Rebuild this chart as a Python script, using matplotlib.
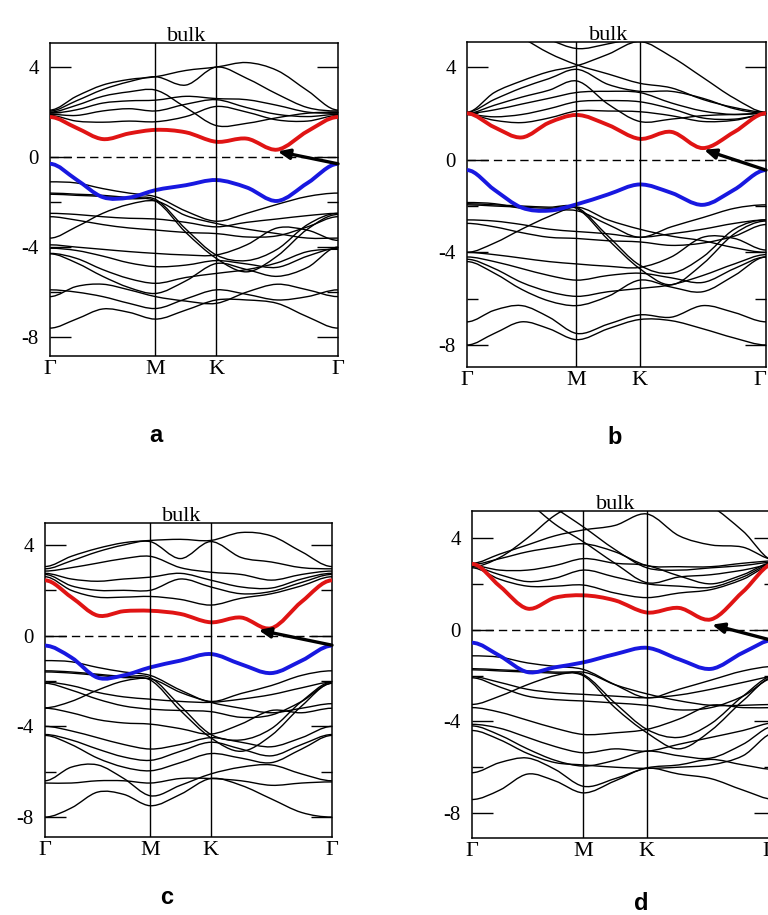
"""
Band structures of four bulk cases (a-d) along G-M-K-G.
"""
import numpy as np
import matplotlib
matplotlib.use('Agg')
import matplotlib.pyplot as plt
from matplotlib.path import Path
from matplotlib.patches import PathPatch

plt.rcParams.update({
    'font.family': 'Liberation Serif',
    'axes.linewidth': 1.1,
    'axes.unicode_minus': False,
    'figure.dpi': 100,
    'savefig.dpi': 100,
})

# k-path (hexagonal: |GM| : |MK| : |KG| = 0.866 : 0.5 : 1)
KPTS = [0.0, 0.2165, 0.433, 0.6495, 0.866, 1.116, 1.366, 1.616, 1.866, 2.116, 2.366]
KNODES = [0.0, 0.866, 1.366, 2.366]
KLABELS = ['Γ', 'M', 'K', 'Γ']

# ---- panel a ----
A_RED = [1.78, 1.3, 0.8, 1.05, 1.21, 1.1, 0.68, 0.82, 0.33, 1.15, 1.78]
A_BLUE = [-0.3, -1.0, -1.78, -1.8, -1.47, -1.25, -1.02, -1.35, -1.95, -1.15, -0.3]
A_COND = [
    [2.09, 2.7, 3.2, 3.45, 3.57, 3.85, 4.0, 4.2, 3.85, 2.95, 2.09],
    [2.05, 2.5, 3.0, 3.35, 3.57, 3.2, 4.0, 3.5, 2.8, 2.2, 2.05],
    [2.0, 2.3, 2.7, 2.9, 2.98, 2.2, 1.4, 1.5, 1.75, 1.95, 2.0],
    [1.95, 2.1, 2.4, 2.5, 2.53, 2.7, 2.6, 2.55, 2.3, 2.0, 1.95],
    [1.9, 1.85, 2.05, 2.15, 2.05, 2.35, 2.55, 2.2, 1.9, 1.8, 1.9],
    [1.85, 1.6, 1.55, 1.6, 1.57, 1.8, 2.25, 2.0, 1.65, 1.6, 1.85],
]
A_VAL = [
    [-1.1, -1.15, -1.4, -1.6, -1.76, -2.4, -2.85, -2.5, -2.1, -1.75, -1.6],
    [-1.6, -1.65, -1.7, -1.8, -1.88, -3.2, -4.35, -4.6, -4.1, -3.0, -2.5],
    [-1.65, -1.7, -1.75, -1.85, -1.95, -3.35, -4.5, -5.1, -4.4, -3.2, -2.55],
    [-2.5, -2.55, -2.65, -2.72, -2.75, -2.9, -3.1, -2.9, -2.75, -2.6, -2.5],
    [-2.65, -2.8, -3.0, -3.15, -3.24, -3.35, -3.4, -3.55, -3.5, -3.1, -2.65],
    [-3.6, -3.1, -2.5, -2.1, -1.95, -2.6, -2.95, -3.2, -3.4, -3.6, -3.6],
    [-3.9, -4.0, -4.1, -4.2, -4.28, -4.35, -4.35, -3.9, -3.15, -3.25, -3.7],
    [-4.05, -4.15, -4.4, -4.7, -4.87, -4.8, -4.6, -4.75, -4.9, -4.4, -4.05],
    [-4.28, -4.5, -5.0, -5.4, -5.61, -5.35, -5.17, -5.0, -4.7, -4.2, -4.1],
    [-4.3, -4.7, -5.3, -5.8, -6.06, -5.5, -4.73, -5.0, -5.3, -4.9, -4.0],
    [-6.2, -5.75, -5.65, -5.9, -6.2, -6.4, -6.5, -6.0, -5.65, -5.9, -6.2],
    [-5.9, -6.0, -6.2, -6.5, -6.73, -6.3, -5.9, -6.1, -6.35, -6.2, -5.9],
    [-7.6, -7.2, -6.75, -6.9, -7.2, -6.8, -6.35, -6.35, -6.5, -7.1, -7.6],
]
A_ARROW = [(2.366, -0.3), (1.87, 0.25)]

# ---- panel b ----
B_RED = [2.0, 1.4, 0.96, 1.6, 1.93, 1.5, 0.9, 1.2, 0.5, 1.2, 2.0]
B_BLUE = [-0.45, -1.3, -2.07, -2.2, -1.93, -1.5, -1.07, -1.43, -1.95, -1.29, -0.45]
B_COND = [
    [2.05, 2.9, 3.4, 3.8, 4.05, 4.55, 5.1, 4.45, 3.55, 2.65, 2.05],
    [2.05, 2.6, 3.1, 3.5, 3.9, 3.25, 2.95, 2.95, 2.65, 2.2, 2.0],
    [2.0, 2.35, 2.7, 3.0, 3.4, 2.4, 1.65, 1.75, 1.9, 1.95, 2.0],
    [2.0, 2.15, 2.4, 2.65, 2.9, 2.95, 2.9, 2.45, 2.1, 1.95, 2.0],
    [1.95, 1.85, 1.95, 2.2, 2.5, 2.55, 2.5, 2.2, 1.8, 1.75, 1.95],
    [1.95, 1.7, 1.6, 1.8, 2.1, 2.1, 2.07, 1.9, 1.65, 1.7, 1.95],
    [7.0, 6.2, 5.3, 4.6, 4.1, 3.7, 3.3, 3.1, 2.6, 2.25, 2.05],
    [7.5, 6.6, 5.8, 5.2, 4.8, 5.0, 5.3, 5.6, 6.0, 6.4, 6.6],
]
B_VAL = [
    [-1.85, -1.9, -2.1, -2.2, -2.2, -2.8, -3.35, -2.9, -2.5, -2.1, -1.95],
    [-1.9, -1.95, -2.0, -2.05, -2.05, -3.3, -4.55, -4.9, -4.2, -3.0, -2.6],
    [-1.95, -2.0, -2.05, -2.1, -2.1, -3.45, -4.7, -5.4, -4.5, -3.2, -2.65],
    [-2.6, -2.65, -2.8, -3.0, -3.1, -3.2, -3.35, -3.2, -3.0, -2.75, -2.6],
    [-2.75, -2.9, -3.15, -3.35, -3.4, -3.5, -3.55, -3.7, -3.6, -3.3, -2.8],
    [-4.0, -3.6, -3.0, -2.45, -2.05, -2.6, -3.0, -3.3, -3.5, -3.8, -4.0],
    [-4.0, -4.1, -4.25, -4.4, -4.5, -4.6, -4.65, -4.2, -3.35, -3.4, -3.9],
    [-4.2, -4.4, -4.7, -5.0, -5.2, -5.0, -4.9, -5.1, -5.3, -4.7, -4.2],
    [-4.3, -4.7, -5.3, -5.7, -5.9, -5.7, -5.56, -5.4, -5.0, -4.5, -4.1],
    [-4.4, -4.9, -5.6, -6.1, -6.3, -5.9, -5.2, -5.5, -5.7, -5.0, -4.2],
    [-7.0, -6.5, -6.3, -6.8, -7.5, -7.1, -6.7, -6.8, -6.3, -6.6, -7.0],
    [-8.0, -7.5, -7.0, -7.3, -7.77, -7.3, -6.9, -6.95, -7.3, -7.7, -8.0],
]
B_ARROW = [(2.366, -0.45), (1.875, 0.43)]

# ---- panel c ----
C_RED = [2.44, 1.7, 0.89, 1.08, 1.1, 0.96, 0.59, 0.8, 0.33, 1.5, 2.44]
C_BLUE = [-0.44, -0.96, -1.85, -1.75, -1.4, -1.1, -0.81, -1.26, -1.65, -1.1, -0.44]
C_COND = [
    [3.05, 3.5, 3.85, 4.1, 4.2, 4.25, 4.2, 4.55, 4.4, 3.7, 3.05],
    [2.95, 3.3, 3.7, 4.0, 4.15, 3.4, 4.15, 3.45, 3.25, 3.0, 2.95],
    [2.85, 3.0, 3.2, 3.4, 3.5, 3.0, 2.8, 2.7, 2.45, 2.7, 2.85],
    [2.75, 2.5, 2.4, 2.5, 2.58, 2.75, 2.45, 2.15, 2.1, 2.5, 2.75],
    [2.7, 2.2, 2.0, 2.0, 2.0, 2.5, 2.15, 1.85, 1.95, 2.35, 2.7],
    [2.6, 2.0, 1.7, 1.7, 1.73, 1.6, 1.35, 1.65, 1.85, 2.2, 2.6],
]
C_VAL = [
    [-1.1, -1.15, -1.4, -1.6, -1.75, -2.4, -2.9, -2.55, -2.2, -1.75, -1.55],
    [-1.55, -1.6, -1.7, -1.8, -1.85, -3.1, -4.35, -4.6, -4.1, -2.9, -2.05],
    [-1.6, -1.65, -1.75, -1.85, -1.95, -3.3, -4.5, -5.1, -4.4, -3.1, -2.1],
    [-2.05, -2.2, -2.5, -2.7, -2.8, -2.9, -2.94, -2.8, -2.6, -2.3, -2.05],
    [-2.1, -2.4, -2.8, -3.1, -3.24, -3.3, -3.35, -3.6, -3.5, -2.9, -2.1],
    [-3.18, -2.9, -2.4, -2.0, -1.9, -2.5, -2.94, -3.2, -3.4, -3.2, -3.0],
    [-3.2, -3.4, -3.7, -3.85, -3.9, -4.1, -4.34, -3.9, -3.3, -3.4, -3.2],
    [-4.0, -4.2, -4.5, -4.8, -5.0, -4.8, -4.5, -4.7, -4.9, -4.5, -4.0],
    [-4.36, -4.6, -5.0, -5.35, -5.5, -5.1, -4.7, -5.0, -5.3, -4.8, -4.36],
    [-4.4, -4.8, -5.4, -5.8, -5.96, -5.6, -5.2, -5.4, -5.6, -5.0, -4.4],
    [-6.4, -5.8, -5.7, -6.3, -7.06, -6.6, -6.1, -5.8, -5.7, -6.1, -6.4],
    [-6.5, -6.5, -6.4, -6.4, -6.5, -6.3, -6.3, -6.4, -6.6, -6.5, -6.45],
    [-8.0, -7.6, -6.9, -7.0, -7.5, -7.0, -6.3, -6.6, -7.2, -7.8, -8.0],
]
C_ARROW = [(2.366, -0.42), (1.76, 0.25)]

# ---- panel d ----
D_RED = [2.87, 1.9, 0.92, 1.4, 1.5, 1.28, 0.75, 0.95, 0.45, 1.66, 2.9]
D_BLUE = [-0.57, -1.14, -1.85, -1.64, -1.43, -1.07, -0.79, -1.29, -1.71, -1.0, -0.43]
D_COND = [
    [2.9, 3.3, 3.7, 4.1, 4.35, 4.55, 5.05, 4.1, 3.7, 3.6, 3.05],
    [2.85, 3.1, 3.4, 3.6, 3.75, 3.4, 2.8, 2.75, 2.75, 2.9, 3.0],
    [2.8, 2.6, 2.6, 2.8, 3.1, 2.9, 2.8, 2.35, 2.0, 2.4, 2.95],
    [2.75, 2.4, 2.1, 2.25, 2.6, 2.3, 2.0, 1.9, 1.85, 2.3, 2.9],
    [2.7, 2.2, 1.9, 1.9, 1.95, 1.6, 1.4, 1.6, 1.75, 2.2, 2.85],
    [7.5, 6.5, 5.6, 4.6, 3.85, 2.9, 2.05, 2.3, 2.4, 2.6, 2.85],
    [7.8, 7.0, 6.0, 5.3, 4.5, 3.5, 2.7, 2.6, 2.7, 2.8, 2.95],
    [2.75, 3.15, 4.0, 5.0, 5.6, 6.0, 6.2, 6.0, 5.4, 4.3, 3.0],
]
D_VAL = [
    [-1.14, -1.2, -1.45, -1.6, -1.73, -2.4, -2.97, -2.6, -2.2, -1.8, -1.6],
    [-1.7, -1.75, -1.8, -1.85, -1.95, -3.2, -4.35, -4.7, -4.1, -2.9, -2.0],
    [-1.75, -1.8, -1.85, -1.9, -2.0, -3.4, -4.5, -5.2, -4.4, -3.1, -2.05],
    [-2.05, -2.3, -2.6, -2.75, -2.82, -2.9, -2.97, -2.85, -2.6, -2.3, -2.05],
    [-2.1, -2.5, -2.9, -3.05, -3.11, -3.2, -3.3, -3.5, -3.4, -2.9, -2.1],
    [-3.26, -2.9, -2.4, -2.0, -1.85, -2.4, -2.8, -3.1, -3.3, -3.3, -3.26],
    [-3.4, -3.6, -3.95, -4.3, -4.57, -4.5, -4.35, -3.9, -3.3, -3.4, -3.4],
    [-4.13, -4.3, -4.7, -5.1, -5.37, -5.2, -5.3, -5.0, -4.7, -4.4, -4.06],
    [-4.2, -4.6, -5.2, -5.7, -5.95, -5.7, -5.3, -5.5, -5.6, -5.0, -4.2],
    [-4.4, -4.8, -5.4, -5.8, -5.9, -6.0, -6.05, -6.0, -5.9, -5.5, -4.5],
    [-6.24, -5.8, -5.6, -6.1, -6.83, -6.5, -6.03, -5.9, -5.66, -5.9, -6.1],
    [-7.41, -7.0, -6.3, -6.6, -7.12, -6.6, -6.05, -6.3, -6.5, -7.0, -7.41],
]
D_ARROW = [(2.366, -0.5), (1.874, 0.22)]

RED = '#e01414'
BLUE = '#1818e0'


def band_path(y):
    # smooth curve through the read points (cubic Hermite as Bezier segments)
    x = np.asarray(KPTS, dtype=float)
    y = np.asarray(y, dtype=float)
    m = np.gradient(y, x)
    m[0] = m[-1] = 0.0
    verts = [(x[0], y[0])]
    codes = [Path.MOVETO]
    for i in range(len(x) - 1):
        h = x[i + 1] - x[i]
        verts += [(x[i] + h / 3, y[i] + m[i] * h / 3),
                  (x[i + 1] - h / 3, y[i + 1] - m[i + 1] * h / 3),
                  (x[i + 1], y[i + 1])]
        codes += [Path.CURVE4] * 3
    return Path(verts, codes)


def draw_panel(ax, cond, red, blue, val, ylim, arrow):
    for b in cond + val:
        ax.add_patch(PathPatch(band_path(b), fill=False, ec='black', lw=1.0, zorder=2))
    ax.add_patch(PathPatch(band_path(red), fill=False, ec=RED, lw=2.8, zorder=3))
    ax.add_patch(PathPatch(band_path(blue), fill=False, ec=BLUE, lw=2.8, zorder=3))
    for xk in KNODES[1:-1]:
        ax.axvline(xk, color='black', lw=1.0, zorder=4)
    ax.axhline(0, color='black', lw=1.0, ls=(0, (6, 3.5)), zorder=4)
    ax.annotate('', xy=arrow[1], xytext=arrow[0],
                arrowprops=dict(arrowstyle='-|>,head_length=0.7,head_width=0.3',
                                color='black', lw=2.4, shrinkA=0, shrinkB=0),
                zorder=5, annotation_clip=False)
    ax.set_xlim(KNODES[0], KNODES[-1])
    ax.set_ylim(*ylim)
    ax.set_xticks(KNODES)
    ax.set_xticklabels(KLABELS)
    ax.set_yticks([-8, -4, 0, 4])
    ax.set_yticks([-6, -2, 2], minor=True)
    ax.tick_params(axis='x', length=0, labelsize=16, pad=3)
    ax.tick_params(axis='y', which='major', direction='in', length=15, width=1.0,
                   right=True, labelsize=15, pad=8)
    ax.tick_params(axis='y', which='minor', direction='in', length=8, width=1.0, right=True)
    ax.text(0.475, 1.006, 'bulk', transform=ax.transAxes, ha='center',
            va='baseline', fontsize=16)


W, H = 768, 915
fig = plt.figure(figsize=(W / 100, H / 100))

# axes boxes in pixels: left, top, right, bottom
boxes = [(50, 43, 338, 356), (467, 42, 766, 367), (45, 523, 332, 837), (472, 511, 775, 838)]
panels = [
    (A_COND, A_RED, A_BLUE, A_VAL, (-8.84, 5.07), A_ARROW),
    (B_COND, B_RED, B_BLUE, B_VAL, (-8.95, 5.08), B_ARROW),
    (C_COND, C_RED, C_BLUE, C_VAL, (-8.88, 4.97), C_ARROW),
    (D_COND, D_RED, D_BLUE, D_VAL, (-9.09, 5.18), D_ARROW),
]
letters = [('a', 156, 435), ('b', 615, 437), ('c', 167, 898), ('d', 641, 903)]

axes = []
for (l, t, r, b), p, (let, lx, ly) in zip(boxes, panels, letters):
    ax = fig.add_axes([l / W, 1 - b / H, (r - l) / W, (b - t) / H])
    draw_panel(ax, *p)
    fig.text(lx / W, 1 - ly / H, let, ha='center', va='center', fontsize=17,
             fontweight='bold', family='Liberation Sans')
    axes.append(ax)

# right-hand labels of b and d sit at the page edge, as in the source
axes[1].get_xticklabels()[-1].set_horizontalalignment('right')
axes[3].get_xticklabels()[-1].set_horizontalalignment('right')

fig.savefig('out.png')
